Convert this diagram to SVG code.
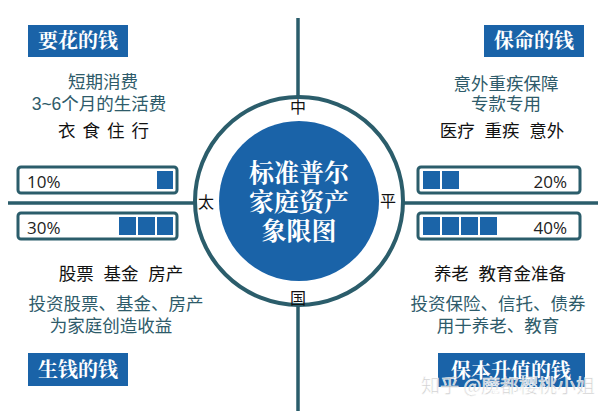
<svg xmlns="http://www.w3.org/2000/svg" width="608" height="411" viewBox="0 0 608 411">
<style>
.ln{stroke:#2b5d6b;stroke-width:3.5;fill:none}
.tag rect{fill:#1a63a8}
.tag text{font-family:"Liberation Serif","Noto Serif CJK SC","Noto Sans CJK SC",serif;font-weight:bold;font-size:20px;fill:#fff;text-anchor:middle}
.desc{font-family:"Liberation Sans","Noto Sans CJK SC",sans-serif;font-size:17.5px;fill:#2e5b6a;text-anchor:middle}
.key{font-family:"Liberation Sans","Noto Sans CJK SC",sans-serif;font-size:17.5px;fill:#111;text-anchor:middle;white-space:pre}
.bar{fill:#fff;stroke:#2b5d6b;stroke-width:3}
.blk{fill:#1b64a8}
.pct{font-family:"Open Sans","Liberation Sans",sans-serif;font-size:17px;fill:#222}
.ring{font-family:"Noto Sans CJK SC",sans-serif;font-size:16px;fill:#111;text-anchor:middle}
.ctr{font-family:"Liberation Serif","Noto Serif CJK SC","Noto Sans CJK SC",serif;font-weight:bold;font-size:25px;fill:#fff;text-anchor:middle}
</style>
<rect width="608" height="411" fill="#fff"/>
<g id="connectors">
<line class="ln" x1="298" y1="18" x2="298" y2="411"/>
<line class="ln" x1="8" y1="203" x2="598" y2="203"/>
</g>
<g id="center">
<circle cx="299" cy="201" r="104" fill="#fff" stroke="#2b5d6b" stroke-width="4"/>
<circle cx="299" cy="201" r="80" fill="#1a63a8"/>
<text class="ctr" x="299" y="182">标准普尔</text>
<text class="ctr" x="299" y="211">家庭资产</text>
<text class="ctr" x="299" y="240">象限图</text>
<text class="ring" x="298" y="113">中</text>
<text class="ring" x="206" y="208">太</text>
<text class="ring" x="388" y="207">平</text>
<text class="ring" x="298" y="304">国</text>
</g>
<g id="q-top-left">
<g class="tag"><rect x="28" y="25" width="100" height="32"/><text x="78" y="48">要花的钱</text></g>
<text class="desc" x="103" y="88">短期消费</text>
<text class="desc" x="99" y="110">3~6个月的生活费</text>
<text class="key" x="107" y="137" letter-spacing="7">衣食住行</text>
</g>
<g id="q-top-right">
<g class="tag"><rect x="484" y="25" width="100" height="32"/><text x="534" y="48">保命的钱</text></g>
<text class="desc" x="506" y="90">意外重疾保障</text>
<text class="desc" x="506" y="110">专款专用</text>
<text class="key" x="502" y="137" xml:space="preserve">医疗  重疾  意外</text>
</g>
<g id="bar-10">
<rect class="bar" x="18" y="167" width="159" height="26" rx="3"/>
<text class="pct" x="27" y="188">10%</text>
<rect class="blk" x="157" y="171" width="16" height="18"/>
</g>
<g id="bar-30">
<rect class="bar" x="18" y="213" width="159" height="26" rx="3"/>
<text class="pct" x="27" y="234">30%</text>
<rect class="blk" x="119" y="217" width="17" height="18"/>
<rect class="blk" x="138" y="217" width="17" height="18"/>
<rect class="blk" x="157" y="217" width="16" height="18"/>
</g>
<g id="bar-20">
<rect class="bar" x="418" y="167" width="162" height="26" rx="3"/>
<rect class="blk" x="423" y="171" width="17" height="18"/>
<rect class="blk" x="442" y="171" width="17" height="18"/>
<text class="pct" x="567" y="188" text-anchor="end">20%</text>
</g>
<g id="bar-40">
<rect class="bar" x="418" y="213" width="162" height="26" rx="3"/>
<rect class="blk" x="423" y="217" width="17" height="18"/>
<rect class="blk" x="442" y="217" width="17" height="18"/>
<rect class="blk" x="461" y="217" width="17" height="18"/>
<rect class="blk" x="480" y="217" width="17" height="18"/>
<text class="pct" x="567" y="234" text-anchor="end">40%</text>
</g>
<g id="q-bottom-left">
<text class="key" x="121" y="280" xml:space="preserve">股票  基金  房产</text>
<text class="desc" x="116" y="310">投资股票、基金、房产</text>
<text class="desc" x="111" y="332">为家庭创造收益</text>
<g class="tag"><rect x="28" y="353" width="100" height="33"/><text x="78" y="377">生钱的钱</text></g>
</g>
<g id="q-bottom-right">
<text class="key" x="500" y="280" xml:space="preserve">养老  教育金准备</text>
<text class="desc" x="498" y="310">投资保险、信托、债券</text>
<text class="desc" x="498" y="332">用于养老、教育</text>
<g class="tag"><rect x="438" y="353" width="147" height="34"/><text x="511" y="378">保本升值的钱</text></g>
</g>
<text x="508" y="393" text-anchor="middle" font-family="Noto Sans CJK SC,sans-serif" font-size="19" fill="#c8c8c8" stroke="#fff" stroke-width="0.6" opacity="0.9">知乎 @魔都樱桃小姐</text>
</svg>
